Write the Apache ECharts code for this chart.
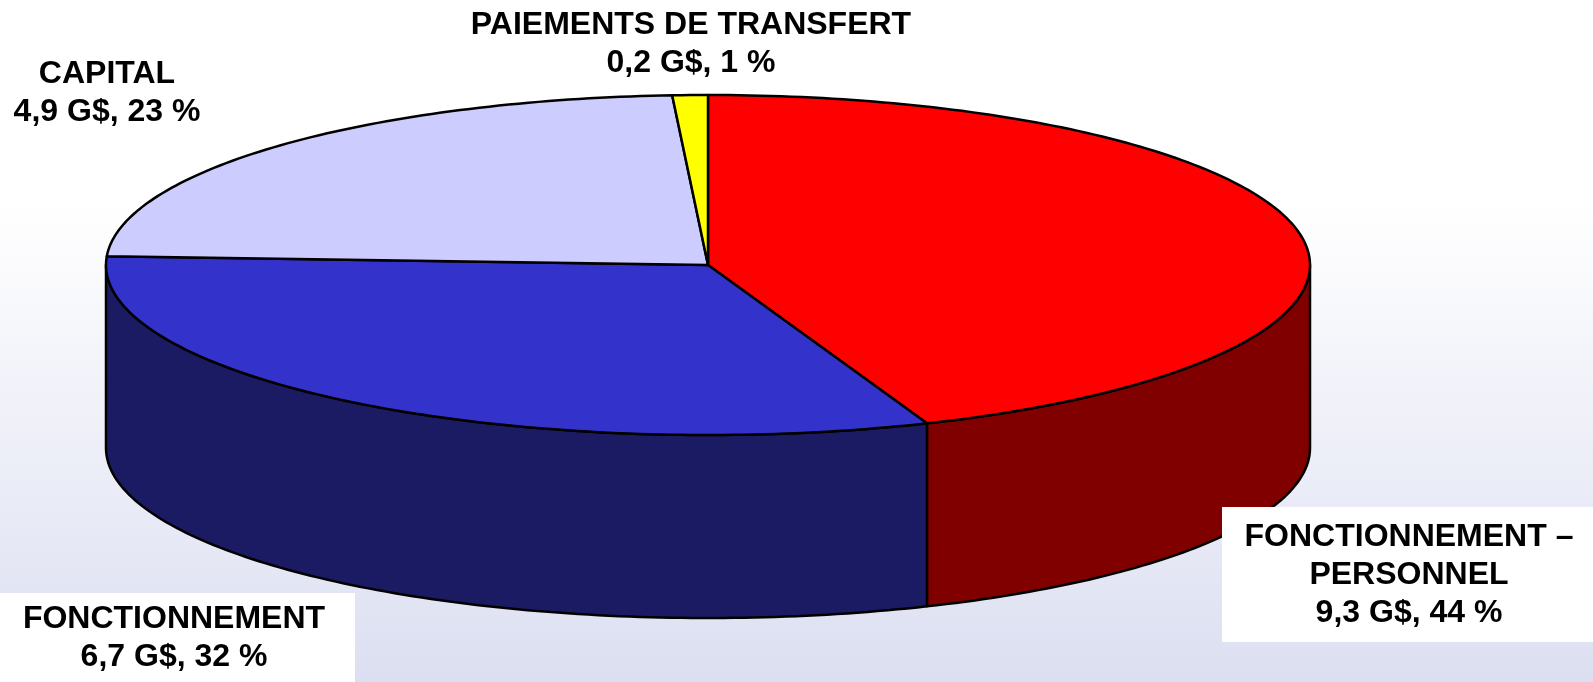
<!DOCTYPE html>
<html>
<head>
<meta charset="utf-8">
<script src="https://cdn.jsdelivr.net/npm/echarts@6/dist/echarts.min.js"></script>
<style>
html,body{margin:0;padding:0;}
#chart{width:1593px;height:682px;}
</style>
</head>
<body>
<div id="chart"></div>
<script>
// ---- data ----
var categories = ['FONCTIONNEMENT – PERSONNEL', 'FONCTIONNEMENT', 'CAPITAL', 'PAIEMENTS DE TRANSFERT'];
var labelLines = [['FONCTIONNEMENT –', 'PERSONNEL'], ['FONCTIONNEMENT'], ['CAPITAL'], ['PAIEMENTS DE TRANSFERT']];
var values = [9.3, 6.7, 4.9, 0.2];
var valueLabels = ['9,3 G$', '6,7 G$', '4,9 G$', '0,2 G$'];
var percentLabels = ['44 %', '32 %', '23 %', '1 %'];
var topColors = ['#ff0000', '#3333cc', '#ccccff', '#ffff00'];
var sideColors = ['#800000', '#1b1b64', '#8f8fb3', '#b3b300'];

// ---- geometry (layout) ----
var CX = 708, CY = 265, RX = 602, RY = 170, DEPTH = 183;
var total = values.reduce(function (a, b) { return a + b; }, 0);
function sliceAngles(i) {
  var before = 0;
  for (var k = 0; k < i; k++) before += values[k];
  var a1 = -90 + before / total * 360;
  var a2 = -90 + (before + values[i]) / total * 360;
  return [a1, a2];
}
function pt(t, dy) {
  var r = t * Math.PI / 180;
  return [CX + RX * Math.cos(r), CY + RY * Math.sin(r) + (dy || 0)];
}
function arc(a1, a2, dy) {
  var pts = [];
  var n = Math.max(2, Math.ceil(Math.abs(a2 - a1)));
  for (var j = 0; j <= n; j++) pts.push(pt(a1 + (a2 - a1) * j / n, dy));
  return pts;
}

function renderTop(params, api) {
  var i = params.dataIndex;
  var a = sliceAngles(i);
  var pts = [[CX, CY]].concat(arc(a[0], a[1], 0));
  return {
    type: 'polygon',
    shape: { points: pts },
    style: { fill: topColors[i], stroke: '#000', lineWidth: 2.5, lineJoin: 'round' }
  };
}
function renderSide(params, api) {
  var i = params.dataIndex;
  var a = sliceAngles(i);
  var s = Math.max(a[0], 0), e = Math.min(a[1], 180);
  if (e <= s) return null;
  var top = arc(s, e, 0);
  var bottom = arc(e, s, DEPTH);
  return {
    type: 'polygon',
    shape: { points: top.concat(bottom) },
    style: { fill: sideColors[i], stroke: '#000', lineWidth: 2.5, lineJoin: 'round' }
  };
}

var FONT = 'bold 32px "Liberation Sans", Arial, sans-serif';
var LH = 38;
// label anchor (centre x, first line middle y) per category
var labelPos = [[1409, 537], [174, 619], [107, 74], [691, 25]];
var labelBoxes = [[1222, 507, 380, 135], [0, 593, 355, 95], null, null];

var graphics = [{
  type: 'rect', z: -10, silent: true,
  shape: { x: 0, y: 0, width: 1593, height: 682 },
  style: {
    fill: { type: 'linear', x: 0, y: 0, x2: 0, y2: 1,
      colorStops: [{ offset: 0, color: '#ffffff' }, { offset: 0.3, color: '#ffffff' }, { offset: 1, color: '#dcdff1' }] }
  }
}];
categories.forEach(function (c, i) {
  var b = labelBoxes[i];
  if (b) graphics.push({ type: 'rect', z: 50, shape: { x: b[0], y: b[1], width: b[2], height: b[3] }, style: { fill: '#ffffff' } });
  var lines = labelLines[i].concat([valueLabels[i] + ', ' + percentLabels[i]]);
  lines.forEach(function (ln, k) {
    graphics.push({
      type: 'text', z: 60,
      x: labelPos[i][0], y: labelPos[i][1] + k * LH,
      style: { text: ln, font: FONT, fill: '#000', align: 'center', verticalAlign: 'middle' }
    });
  });
});

var chart = echarts.init(document.getElementById('chart'));
chart.setOption({
  animation: false,
  graphic: graphics,
  series: [
    { type: 'custom', name: 'side', coordinateSystem: 'none', z: 2, renderItem: renderSide, data: values, silent: true },
    { type: 'custom', name: 'top', coordinateSystem: 'none', z: 3, renderItem: renderTop, data: values, silent: true }
  ]
});
</script>
</body>
</html>
